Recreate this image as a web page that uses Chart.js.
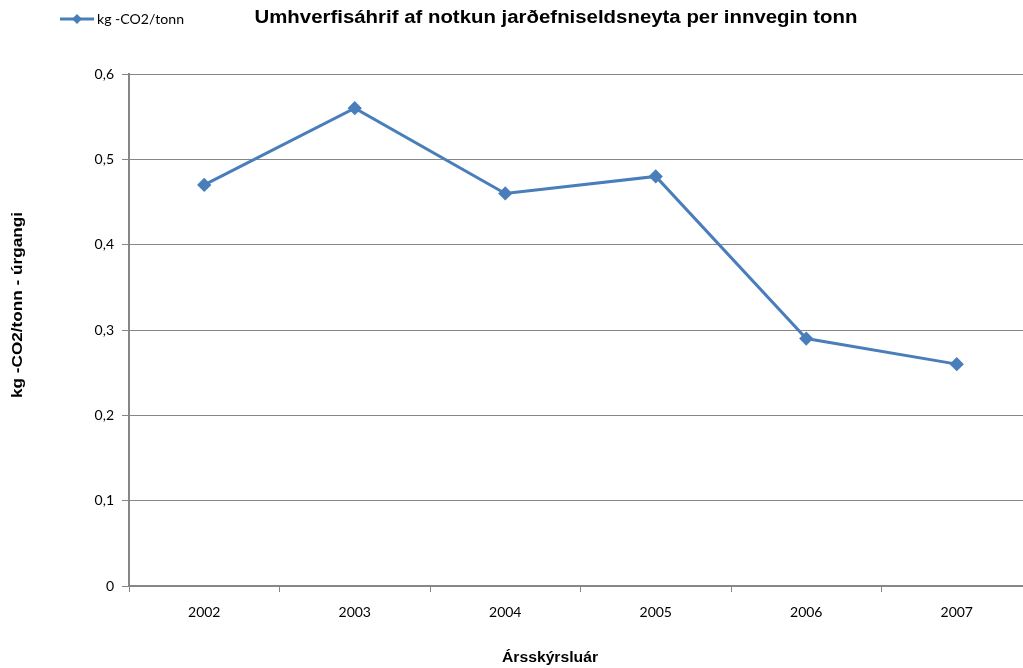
<!DOCTYPE html>
<html>
<head>
<meta charset="utf-8">
<script src="https://cdn.jsdelivr.net/npm/chart.js@4"></script>
<style>
  html, body { margin: 0; padding: 0; background: #fff; overflow: hidden; }
  #wrap { width: 1040px; height: 668px; }
</style>
</head>
<body>
<div id="wrap"><canvas id="chart" width="1040" height="668"></canvas></div>
<script>
const years = ['2002', '2003', '2004', '2005', '2006', '2007'];
const co2PerTonn = [0.47, 0.56, 0.46, 0.48, 0.29, 0.26];
const yTicks = [0, 0.1, 0.2, 0.3, 0.4, 0.5, 0.6];

const seriesName = 'kg -CO2/tonn';
const chartTitle = 'Umhverfisáhrif af notkun jarðefniseldsneyta per innvegin tonn';
const yTitle = 'kg -CO2/tonn - úrgangi';
const xTitle = 'Ársskýrsluár';

const blue = '#4a7ebb';
const grey = '#868686';
const tickFont = 'Lato, "Open Sans", sans-serif';

// text stretched to the width it has in the picture
function fitText(ctx, text, x, y, width, rot) {
  ctx.save();
  ctx.translate(x, y);
  if (rot) ctx.rotate(rot);
  const w = ctx.measureText(text).width;
  ctx.scale(width / w, 1);
  ctx.fillText(text, 0, 0);
  ctx.restore();
}

const titles = {
  id: 'titles',
  afterDraw(chart) {
    const ctx = chart.ctx;
    ctx.save();
    ctx.fillStyle = '#000';
    ctx.textBaseline = 'middle';
    ctx.textAlign = 'center';
    ctx.font = 'bold 18px "Liberation Sans", Arial, sans-serif';
    fitText(ctx, chartTitle, 556, 18, 603);
    ctx.font = 'bold 14px "Liberation Sans", Arial, sans-serif';
    fitText(ctx, xTitle, 550, 658, 96);
    fitText(ctx, yTitle, 18, 305, 186, -Math.PI / 2);

    // legend
    ctx.strokeStyle = blue;
    ctx.lineWidth = 3;
    ctx.beginPath(); ctx.moveTo(60, 19); ctx.lineTo(94, 19); ctx.stroke();
    ctx.fillStyle = blue;
    ctx.beginPath();
    ctx.moveTo(77, 14); ctx.lineTo(82, 19); ctx.lineTo(77, 24); ctx.lineTo(72, 19);
    ctx.closePath(); ctx.fill();
    ctx.fillStyle = '#000';
    ctx.textAlign = 'left';
    ctx.font = '13px ' + tickFont;
    ctx.textAlign = 'center';
    fitText(ctx, seriesName, 97 + 87 / 2, 20, 87);
    ctx.restore();
  }
};

new Chart(document.getElementById('chart'), {
  type: 'line',
  data: {
    labels: years,
    datasets: [{
      label: seriesName,
      data: co2PerTonn,
      borderColor: blue,
      backgroundColor: blue,
      borderWidth: 3,
      pointStyle: 'rectRot',
      pointRadius: 5,
      pointHoverRadius: 5,
      tension: 0
    }]
  },
  options: {
    responsive: false,
    animation: false,
    layout: { padding: { top: 74, right: 5, bottom: 0, left: 0 } },
    plugins: {
      tooltip: { enabled: false },
      title: { display: false },
      legend: { display: false }
    },
    scales: {
      x: {
        offset: true,
        afterFit(scale) { scale.height = 82; },
        grid: {
          offset: true,
          drawOnChartArea: false,
          drawTicks: true,
          tickLength: 6,
          color: grey
        },
        border: { color: grey, width: 2 },
        ticks: {
          color: '#000',
          padding: 12,
          font: { family: tickFont, size: 14 }
        }
      },
      y: {
        min: 0,
        max: 0.6,
        afterFit(scale) { scale.width = 129; },
        afterBuildTicks(scale) { scale.ticks = yTicks.map(v => ({ value: v })); },
        grid: {
          color: grey,
          lineWidth: 1,
          drawTicks: true,
          tickLength: 7
        },
        border: { color: grey, width: 2 },
        ticks: {
          color: '#000',
          padding: 8,
          font: { family: tickFont, size: 14 },
          callback: v => v === 0 ? '0' : v.toFixed(1).replace('.', ',')
        }
      }
    }
  },
  plugins: [titles]
});
</script>
</body>
</html>
